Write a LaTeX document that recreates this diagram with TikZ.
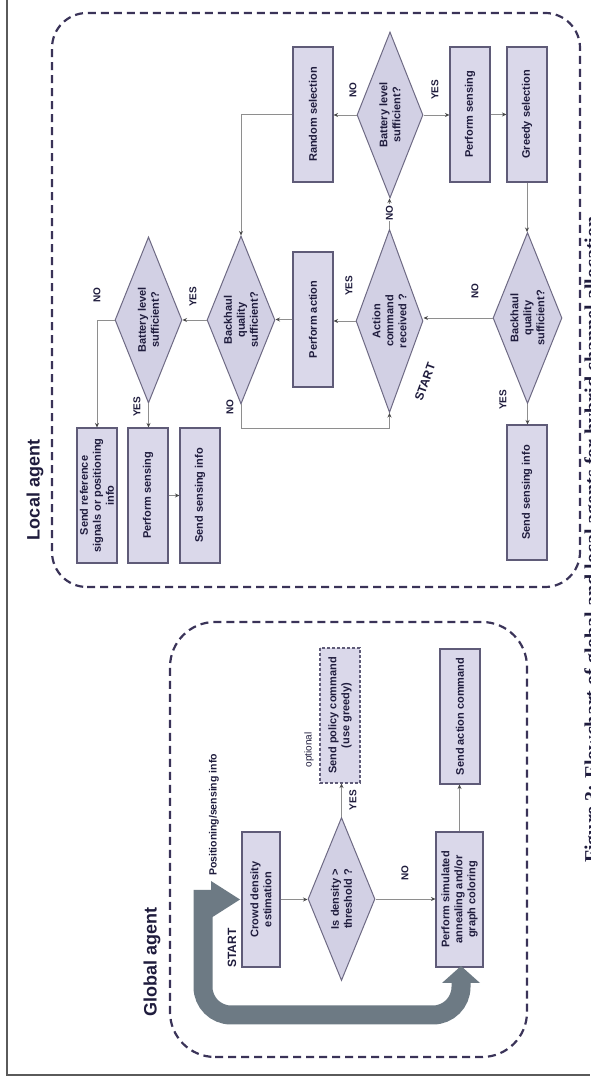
\documentclass[tikz,border=0pt]{standalone}
\usepackage{fontspec}
\setmainfont{Liberation Sans}
\newfontfamily\capfont{Liberation Serif}
\usetikzlibrary{shapes.geometric,arrows.meta}
\definecolor{boxfill}{HTML}{DAD8EA}
\definecolor{boxdraw}{HTML}{5F5B78}
\definecolor{diafill}{HTML}{D2D0E4}
\definecolor{diadraw}{HTML}{6E6A84}
\definecolor{txt}{HTML}{1F1C3D}
\definecolor{conncol}{HTML}{8E8E8E}
\definecolor{tipcol}{HTML}{4A4A4A}
\definecolor{dashcol}{HTML}{3A3358}
\definecolor{thickcol}{HTML}{6D7A84}
\definecolor{framecol}{HTML}{5A5A5A}
\tikzset{
  pbox/.style={draw=boxdraw, fill=boxfill, line width=1.1pt, minimum width=135pt,
    minimum height=40pt, inner sep=2pt, align=center, text=txt,
    font=\bfseries\fontsize{11}{13}\selectfont},
  dia/.style={diamond, shape aspect=2.5, draw=diadraw, fill=diafill, line width=1pt,
    inner sep=1pt, align=center, text=txt, font=\bfseries\fontsize{11}{13}\selectfont},
  lab/.style={text=txt, inner sep=1pt, font=\bfseries\fontsize{10}{12}\selectfont},
  startlab/.style={text=txt, inner sep=1pt, font=\bfseries\fontsize{12}{14}\selectfont},
  title/.style={text=txt, inner sep=1pt, font=\bfseries\fontsize{18}{20}\selectfont},
  conn/.style={draw=conncol, line width=0.8pt, -{Stealth[length=4.5pt,width=4pt,color=tipcol]}},
  agent/.style={draw=dashcol, line width=2.2pt, dash pattern=on 8pt off 5pt},
}
\begin{document}
\begin{tikzpicture}[x=1pt,y=1pt]
\useasboundingbox (0,0) rectangle (590,1081);
\fill[white] (0,0) rectangle (590,1081);
\clip (0,0) rectangle (590,1081);
\draw[framecol, line width=1.2pt] (7,1081) -- (7,6) -- (590,6);
\begin{scope}[x=1pt,y=-1pt,rotate=90,transform shape]
% ---------------- Global agent ----------------
\draw[agent, rounded corners=45pt] (24,170) rectangle (459,527);
\node[title] (gtitle) at (119,152) {Global agent};
\node[pbox, minimum height=38pt] (crowd) at (181.5,261) {Crowd density\\estimation};
\node[dia, minimum width=163pt, minimum height=67pt] (dens) at (182,341.5) {Is density >\\threshold ?};
\node[pbox, minimum height=47pt] (sim) at (181.5,459.5) {Perform simulated\\annealing and/or\\graph coloring};
\node[pbox, dash pattern=on 3pt off 2pt] (policy) at (365.5,340) {Send policy command\\(use greedy)};
\node[pbox] (sendact) at (364.5,460) {Send action command};
\node[text=txt, inner sep=1pt, font=\fontsize{10}{12}\selectfont] (opt) at (331,309) {optional};
\node[lab] (gyes) at (281,353) {YES};
\node[lab] (gno) at (208,405) {NO};
\node[startlab] (gstart) at (133,232) {START};
\node[lab, font=\bfseries\fontsize{10.5}{12}\selectfont] (pos) at (266,214) {Positioning/sensing info};
\draw[conn] (crowd.south) -- (crowd.south |- dens.north);
\draw[conn] (dens.east) -- (dens.east -| policy.west);
\draw[conn] (dens.south) -- (dens.south |- sim.north);
\draw[conn] (sim.east) -- (sim.east -| sendact.west);
% thick arrow
\draw[thickcol, line width=19pt, rounded corners=28pt] (191,203) -- (66,203) -- (66,461) -- (99,461);
\fill[thickcol] (163,211) -- (200,211) -- (181.5,240) -- cycle;
\fill[thickcol] (98,442) -- (98,480) -- (115,461) -- cycle;
% ---------------- Local agent ----------------
\draw[agent, rounded corners=35pt] (494,52) rectangle (1068,580);
\node[title] (ltitle) at (591,35) {Local agent};
\node[pbox] (sref) at (585.5,97) {Send reference\\signals or positioning\\info};
\node[pbox] (ps1) at (585.5,148) {Perform sensing};
\node[pbox] (si1) at (585.5,200) {Send sensing info};
\node[dia, minimum width=166pt, minimum height=67pt] (bat1) at (761,148.5) {Battery level\\sufficient?};
\node[dia, minimum width=168pt, minimum height=68pt] (bh1) at (761,241) {Backhaul\\quality\\sufficient?};
\node[pbox] (pact) at (761.5,313) {Perform action};
\node[dia, minimum width=183pt, minimum height=67pt] (act) at (760,389.5) {Action\\command\\received ?};
\node[dia, minimum width=171pt, minimum height=69pt] (bh2) at (763,527.5) {Backhaul\\quality\\sufficient?};
\node[pbox] (si2) at (588.5,527) {Send sensing info};
\node[pbox] (rsel) at (966.5,313) {Random selection};
\node[dia, minimum width=166pt, minimum height=66pt] (bat2) at (966,390) {Battery level\\sufficient?};
\node[pbox] (ps2) at (966.5,470) {Perform sensing};
\node[pbox] (greedy) at (966.5,527) {Greedy selection};
\draw[conn] (bat1.north) |- (sref.east);
\draw[conn] (bat1.west) -- (bat1.west -| ps1.east);
\draw[conn] (ps1.south) -- (si1.north);
\draw[conn] (bh1.north) -- (bat1.south);
\draw[conn] (pact.north) -- (pact.north |- bh1.south);
\draw[conn] (bh1.west) -- (653,241) |- (act.west);
\draw[conn] (rsel.north) |- (bh1.east);
\draw[conn] (act.north) -- (act.north |- pact.south);
\draw[conn] (act.east) -- (act.east -| bat2.west);
\draw[conn] (bat2.north) -- (bat2.north |- rsel.south);
\draw[conn] (bat2.south) -- (bat2.south |- ps2.north);
\draw[conn] (ps2.south) -- (greedy.north);
\draw[conn] (greedy.west) -- (greedy.west -| bh2.east);
\draw[conn] (bh2.north) -- (bh2.north |- act.south);
\draw[conn] (bh2.west) -- (bh2.west -| si2.east);
\node[lab] (l1) at (786,97) {NO};
\node[lab] (l2) at (674,137) {YES};
\node[lab] (l3) at (784,193) {YES};
\node[lab] (l4) at (674,230) {NO};
\node[lab] (l5) at (795,349) {YES};
\node[lab, fill=white] (l6) at (868,389.5) {NO};
\node[lab] (l7) at (790,475) {NO};
\node[lab] (l8) at (681,503) {YES};
\node[lab] (l9) at (991,353) {NO};
\node[lab] (l10) at (991,435) {YES};
\node[startlab, rotate=-20] (lstart) at (699,425) {START};
% caption (mostly cut off by the page edge)
\node[anchor=north west, inner sep=0pt, text=txt, font=\capfont\bfseries\fontsize{20}{22}\selectfont] (cap) at (218,584) {Figure 3: Flowchart of global and local agents for hybrid channel allocation};
\end{scope}
\end{tikzpicture}
\end{document}
